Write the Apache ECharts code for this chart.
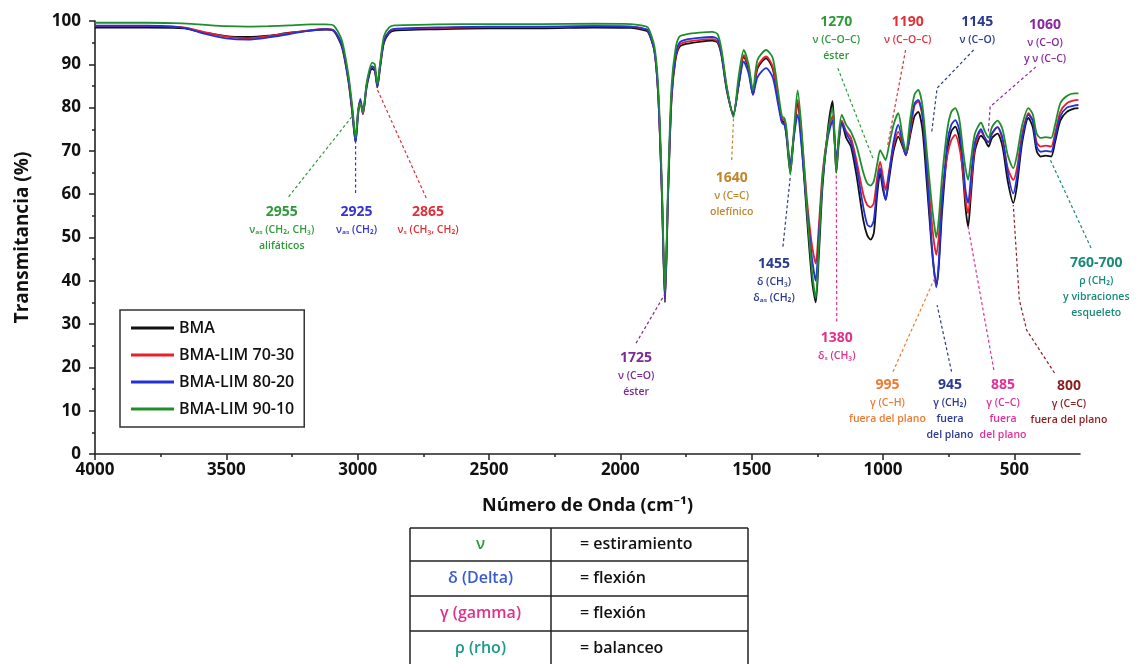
<!DOCTYPE html>
<html>
<head>
<meta charset="utf-8">
<title>FTIR BMA-LIM</title>
<script src="https://cdn.jsdelivr.net/npm/echarts@6/dist/echarts.min.js"></script>
<style>
  html, body { margin: 0; padding: 0; background: #fff; }
  #chart { width: 1136px; height: 664px; }
</style>
</head>
<body>
<div id="chart"></div>
<script>
// wavenumbers (cm-1) and transmittance (%)
const wavenumbers = [4000, 3800, 3700, 3650, 3580, 3500, 3420, 3340, 3260, 3180, 3120, 3090, 3060, 3035, 3020, 3008, 2998, 2990, 2980, 2965, 2945, 2935, 2925, 2915, 2900, 2880, 2860, 2700, 2500, 2300, 2100, 1960, 1920, 1895, 1870, 1855, 1842, 1830, 1818, 1805, 1790, 1775, 1750, 1700, 1650, 1630, 1615, 1595, 1570, 1550, 1530, 1512, 1495, 1478, 1445, 1420, 1400, 1385, 1375, 1367, 1353, 1340, 1325, 1310, 1290, 1270, 1256, 1245, 1230, 1210, 1192, 1185, 1178, 1168, 1157, 1140, 1122, 1100, 1075, 1060, 1047, 1035, 1022, 1011, 1000, 990, 978, 960, 942, 925, 913, 895, 880, 866, 850, 835, 815, 805, 797, 788, 775, 755, 740, 725, 710, 695, 686, 676, 665, 650, 627, 612, 598, 585, 564, 545, 525, 504, 490, 470, 446, 430, 415, 400, 380, 360, 345, 325, 300, 270, 256];
const tBMA = [98.5, 98.5, 98.4, 98.2, 97.3, 96.5, 96.3, 96.6, 97.3, 97.8, 98.0, 97.6, 94.0, 86, 78.5, 72, 79, 81.5, 78.5, 85, 89, 88.5, 84.7, 89, 95, 97.2, 97.8, 98.1, 98.3, 98.3, 98.5, 98.4, 98.0, 97.5, 93, 82, 60, 35, 60, 82, 91, 94, 94.7, 95.2, 95.5, 95, 92, 84, 78.5, 85, 91.8, 89, 83, 89, 91.4, 89, 82, 77, 76.5, 73, 65, 73, 81, 72, 55, 40, 35, 45, 62, 75, 81.5, 74, 65, 72, 76.5, 73, 71, 64, 54, 50.5, 49.5, 51, 60, 64.9, 61, 58.7, 63, 70, 73.3, 71, 69, 74, 78, 79, 75, 64, 48, 42, 39, 43, 56, 70, 74.5, 75.6, 73, 64, 57, 52.5, 60, 70, 73.5, 72.5, 71, 73, 74, 71, 63, 58, 62, 72, 77.6, 75.5, 70, 68.7, 68.9, 68.7, 72, 77, 79, 79.8, 79.9];
const tLim7030 = [98.8, 98.8, 98.7, 98.4, 97.4, 96.4, 96.0, 96.5, 97.2, 97.9, 98.2, 97.8, 94.5, 86.5, 79, 72.5, 79.5, 81.5, 78.5, 85.5, 89.5, 89, 85, 89.5, 95.5, 97.5, 98.1, 98.4, 98.6, 98.6, 98.8, 98.7, 98.3, 97.8, 93, 82, 61, 36, 61, 82.5, 91.5, 94.5, 95.2, 95.6, 95.8, 95.3, 92.5, 84.5, 78.2, 85.5, 92.1, 89.5, 83, 89.5, 91.8, 89.5, 82.5, 77.5, 77, 74, 66.5, 73.5, 81.8, 74, 59, 48, 44, 52, 65, 74, 78, 73, 67, 73, 77, 74.5, 73, 67.5, 60, 57.5, 57, 58, 64, 67.5, 64, 61, 65, 71, 74.4, 71.5, 69, 75, 80.5, 81.4, 78, 68, 54, 48.5, 46, 50, 60, 69, 72.5, 73.7, 71, 65, 59, 55.6, 62, 71, 74.5, 73, 72, 74, 75.5, 72.5, 66, 63.3, 66, 74, 78.7, 77, 72, 71, 71.2, 71, 74, 79, 81, 81.7, 81.8];
const tLim8020 = [98.9, 98.9, 98.7, 98.3, 97.0, 96.0, 95.7, 96.2, 97.0, 97.8, 98.1, 97.8, 94.5, 86.5, 79, 72, 78.5, 82, 79, 85.5, 89.5, 89, 85, 89.5, 95.5, 97.6, 98.2, 98.5, 98.7, 98.7, 98.8, 98.7, 98.4, 97.8, 93, 82, 61, 36, 61, 83, 92, 95, 95.7, 96.1, 96.3, 95.8, 92.5, 84.5, 78.2, 85, 90.6, 88, 83, 87, 89.1, 87, 81, 76.5, 76, 73.5, 67, 73, 78.3, 71, 57, 45, 40, 50, 63, 73, 77, 73, 68, 73, 76.5, 74, 72, 66, 57, 53, 52.5, 54, 62, 66, 62, 58.7, 64, 72, 76, 72, 69, 76, 81, 81.8, 78.5, 67, 49, 42, 38.5, 44, 58, 72, 76, 77.1, 75, 67, 61, 58, 64, 72, 75, 73, 72, 74, 75.5, 73, 65, 60.2, 64, 73, 78.3, 77, 71, 69.8, 70, 69.8, 73, 78, 80, 80.5, 80.6];
const tLim9010 = [99.6, 99.6, 99.5, 99.4, 99.1, 98.8, 98.7, 98.8, 99.0, 99.2, 99.2, 98.9, 95.5, 87.5, 80, 73, 79.5, 81, 79, 86, 90.4, 90, 85.5, 90, 96.5, 98.5, 99, 99.2, 99.3, 99.3, 99.4, 99.3, 99.0, 98.5, 94, 84, 63, 37.5, 63, 85, 93.5, 96.4, 96.9, 97.3, 97.5, 97, 93.5, 85, 77.8, 87, 93.3, 90, 84, 91, 93.3, 91.5, 84, 78, 77.5, 75, 64.5, 74, 84, 75, 57, 42, 36, 47, 64, 74, 80, 74, 65, 74, 78.3, 76, 74.4, 71, 65, 62.5, 62, 63, 67, 70.2, 69, 67.9, 71, 76, 78.7, 73, 70, 78, 83, 84.1, 80.5, 71, 58, 53, 50, 54, 64, 75, 79, 79.9, 77.5, 70, 66, 63.3, 68, 74, 76.5, 74.5, 73, 75.5, 77, 75, 69, 66, 69, 76, 79.9, 78.5, 74, 73, 73.2, 73, 76, 81, 82.7, 83.3, 83.3];

const seriesNames = ['BMA', 'BMA-LIM 70-30', 'BMA-LIM 80-20', 'BMA-LIM 90-10'];
const seriesValues = [tBMA, tLim7030, tLim8020, tLim9010];
const seriesColors = ['#111111', '#e8212b', '#2430dc', '#1f8f2c'];

const xTicks = [4000, 3500, 3000, 2500, 2000, 1500, 1000, 500];
const xMinorTicks = [3750, 3250, 2750, 2250, 1750, 1250, 750];

const tableSymbols = ['ν', 'δ (Delta)', 'γ (gamma)', 'ρ (rho)'];
const tableSymbolColors = ['#2e9a3a', '#3a5ad2', '#e0308a', '#1a9a8a'];
const tableMeanings = ['= estiramiento', '= flexión', '= flexión', '= balanceo'];

// band labels: text block anchored at [wn, T] (top centre), dashed leader along path
const annotations = [
  { color: '#2e9a3a', at: [3289, 58.2], path: [[3263, 59.4], [3017, 78.3]], lines: ['2955', 'νₐₛ (CH₂, CH₃)', 'alifáticos'] },
  { color: '#3535d0', at: [3004, 58.2], path: [[3008, 60.3], [3008, 71.8]], lines: ['2925', 'νₐₛ (CH₂)'] },
  { color: '#e0303a', at: [2732, 58.2], path: [[2739, 59.1], [2929, 84.7]], lines: ['2865', 'νₛ (CH₃, CH₂)'] },
  { color: '#c0862c', at: [1576, 66.1], path: [[1576, 67.9], [1569, 77.6]], lines: ['1640', 'ν (C=C)', 'olefínico'] },
  { color: '#2e9a3a', at: [1178, 102.1], path: [[1172, 89.1], [1036, 67.9]], lines: ['1270', 'ν (C–O–C)', 'éster'] },
  { color: '#e0303a', at: [906, 102.1], path: [[914, 93.3], [983, 71]], lines: ['1190', 'ν (C–O–C)'] },
  { color: '#2a3a8f', at: [641, 102.1], path: [[655, 93.3], [794, 84.5], [815, 74.1]], lines: ['1145', 'ν (C–O)'] },
  { color: '#8a2aa0', at: [383, 101.4], path: [[418, 89.4], [592, 80.2], [599, 74.4]], lines: ['1060', 'ν (C–O)', 'y ν (C–C)'] },
  { color: '#1a8a7a', at: [188, 46.5], path: [[208, 47.6], [363, 67.9]], lines: ['760-700', 'ρ (CH₂)', 'y vibraciones', 'esqueleto'] },
  { color: '#2a3a8f', at: [1415, 46.2], path: [[1381, 47.9], [1353, 64.0]], lines: ['1455', 'δ (CH₃)', 'δₐₛ (CH₂)'] },
  { color: '#7a2a9a', at: [1940, 24.4], path: [[1940, 25.6], [1828, 37.2]], lines: ['1725', 'ν (C=O)', 'éster'] },
  { color: '#e0308a', at: [1176, 29.0], path: [[1176, 30.6], [1178, 64.9]], lines: ['1380', 'δₛ (CH₃)'] },
  { color: '#f07a30', at: [983, 18.2], path: [[962, 19.0], [801, 40.9]], lines: ['995', 'γ (C–H)', 'fuera del plano'] },
  { color: '#2a3a8f', at: [745, 18.2], path: [[739, 19.0], [794, 34.4]], lines: ['945', 'γ (CH₂)', 'fuera', 'del plano'] },
  { color: '#e0309a', at: [543, 18.2], path: [[578, 19.4], [676, 52.5]], lines: ['885', 'γ (C–C)', 'fuera', 'del plano'] },
  { color: '#8b1f1f', at: [292, 17.9], path: [[347, 18.7], [453, 28.6], [481, 35.6], [504, 57.5]], lines: ['800', 'γ (C=C)', 'fuera del plano'] }
];

const FONT = '"Open Sans", "Noto Sans", "DejaVu Sans", sans-serif';

const chart = echarts.init(document.getElementById('chart'));

const option = {
  backgroundColor: '#fff',
  animation: false,
  grid: { left: 95, right: 56, top: 21, bottom: 210 },
  legend: {
    orient: 'vertical',
    left: 120,
    top: 310,
    padding: [9, 10, 9, 11],
    itemGap: 9,
    itemWidth: 43,
    itemHeight: 3,
    itemTextGap: 11,
    icon: 'rect',
    borderColor: '#333',
    borderWidth: 1.5,
    backgroundColor: '#fff',
    data: seriesNames,
    textStyle: { fontFamily: FONT, fontSize: 16, fontWeight: 600, color: '#111', lineHeight: 18 }
  },
  xAxis: [
    {
      type: 'value',
      inverse: true,
      min: 250,
      max: 4000,
      name: 'Número de Onda (cm⁻¹)',
      nameLocation: 'middle',
      nameGap: 43,
      nameTextStyle: { fontFamily: FONT, fontSize: 18, fontWeight: 'bold', color: '#111' },
      axisLine: { onZero: false, lineStyle: { color: '#222', width: 1.6 } },
      axisTick: { customValues: xTicks, length: 6, lineStyle: { color: '#222', width: 1.5 } },
      axisLabel: { customValues: xTicks, margin: 8, formatter: v => String(v), fontFamily: FONT, fontSize: 17, fontWeight: 'bold', color: '#111' },
      splitLine: { show: false }
    },
    {
      type: 'value',
      inverse: true,
      min: 250,
      max: 4000,
      position: 'bottom',
      axisLine: { show: false },
      axisTick: { customValues: xMinorTicks, length: 3, lineStyle: { color: '#222', width: 1.5 } },
      axisLabel: { show: false },
      splitLine: { show: false }
    }
  ],
  yAxis: {
    type: 'value',
    min: 0,
    max: 100,
    interval: 10,
    name: 'Transmitancia (%)',
    nameLocation: 'middle',
    nameGap: 63,
    nameTextStyle: { fontFamily: FONT, fontSize: 19, fontWeight: 'bold', color: '#111' },
    axisLine: { show: true, lineStyle: { color: '#222', width: 1.6 } },
    axisTick: { show: true, length: 6, lineStyle: { color: '#222', width: 1.5 } },
    minorTick: { show: true, splitNumber: 2, length: 3, lineStyle: { color: '#222', width: 1.5 } },
    axisLabel: { margin: 14, fontFamily: FONT, fontSize: 17, fontWeight: 'bold', color: '#111' },
    splitLine: { show: false }
  },
  series: seriesNames.map((name, i) => ({
    name,
    type: 'line',
    xAxisIndex: 0,
    symbol: 'none',
    smooth: 0.25,
    color: seriesColors[i],
    lineStyle: { width: 1.8, color: seriesColors[i] },
    data: wavenumbers.map((w, k) => [w, seriesValues[i][k]])
  }))
};

chart.setOption(option);

function buildGraphics() {
  const els = [];
  const px = p => chart.convertToPixel({ xAxisIndex: 0, yAxisIndex: 0 }, p);

  annotations.forEach(a => {
    els.push({
      type: 'polyline',
      z: 50,
      shape: { points: a.path.map(px) },
      style: { stroke: a.color, lineWidth: 1.2, lineDash: [3, 2.5], fill: null }
    });
    const [x, y] = px(a.at);
    els.push({
      type: 'text',
      z: 60,
      x, y,
      style: {
        text: a.lines.map((l, i) => (i === 0 ? '{n|' + l + '}' : '{s|' + l + '}')).join('\n'),
        align: 'center',
        verticalAlign: 'top',
        fill: a.color,
        rich: {
          n: { fontFamily: FONT, fontSize: 14, fontWeight: 'bold', lineHeight: 20, fill: a.color },
          s: { fontFamily: FONT, fontSize: 10.5, fontWeight: 600, lineHeight: 16, fill: a.color }
        }
      }
    });
  });

  // notation table under the axis title
  const tLeft = 410, tMid = 551, tRight = 748;
  const rowTops = [528, 561, 596, 631, 666];
  const stroke = { stroke: '#222', lineWidth: 1.5 };
  rowTops.forEach(y => els.push({ type: 'line', shape: { x1: tLeft, y1: y, x2: tRight, y2: y }, style: stroke }));
  [tLeft, tMid, tRight].forEach(x => els.push({ type: 'line', shape: { x1: x, y1: rowTops[0], x2: x, y2: 666 }, style: stroke }));
  tableSymbols.forEach((s, i) => {
    const cy = (rowTops[i] + rowTops[i + 1]) / 2;
    els.push({ type: 'text', x: (tLeft + tMid) / 2, y: cy,
      style: { text: s, align: 'center', verticalAlign: 'middle', fill: tableSymbolColors[i], font: '600 16px ' + FONT } });
    els.push({ type: 'text', x: tMid + 29, y: cy,
      style: { text: tableMeanings[i], align: 'left', verticalAlign: 'middle', fill: '#111', font: '600 16px ' + FONT } });
  });
  return els;
}

chart.setOption({ graphic: buildGraphics() });

window.onresize = () => {
  chart.resize();
  chart.setOption({ graphic: buildGraphics() });
};
</script>
</body>
</html>
